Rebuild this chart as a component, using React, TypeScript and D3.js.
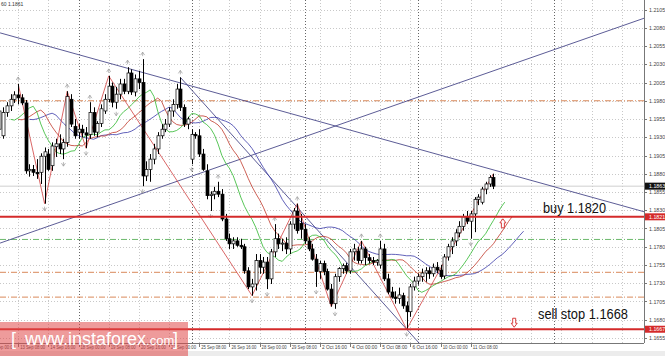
import React from 'react';
import * as d3 from 'd3';

const W = 665, H = 356;
const PLOT_RIGHT = 644, PLOT_BOTTOM = 343;

// bar index of first candle (index 0 = 12 Sep 00:00, H4 bars)
const FIRST_BAR = 3;
const opens = [1.1941,1.1932,1.1964,1.1973,1.1982,1.1988,1.1984,1.1977,1.1884,1.1886,1.1882,1.1882,1.1904,1.1907,1.1891,1.1917,1.1921,1.1914,1.1923,1.1982,1.1945,1.1937,1.1941,1.1936,1.1934,1.1964,1.1937,1.1949,1.1966,1.1982,1.2000,1.1978,1.1989,1.2003,1.1993,1.2018,1.1992,1.2010,1.2005,1.1877,1.1886,1.1900,1.1914,1.1932,1.1941,1.1948,1.1966,1.1975,1.1996,1.1971,1.1948,1.1900,1.1934,1.1932,1.1907,1.1884,1.1850,1.1852,1.1856,1.1852,1.1818,1.1791,1.1784,1.1788,1.1782,1.1780,1.1747,1.1725,1.1729,1.1761,1.1752,1.1759,1.1736,1.1773,1.1791,1.1784,1.1785,1.1777,1.1811,1.1829,1.1812,1.1804,1.1788,1.1777,1.1763,1.1746,1.1757,1.1746,1.1722,1.1702,1.1739,1.1750,1.1754,1.1747,1.1773,1.1774,1.1761,1.1777,1.1765,1.1761,1.1759,1.1755,1.1777,1.1736,1.1718,1.1711,1.1709,1.1713,1.1699,1.1691,1.1725,1.1733,1.1739,1.1744,1.1747,1.1743,1.1752,1.1748,1.1740,1.1766,1.1780,1.1788,1.1799,1.1808,1.1821,1.1815,1.1825,1.1845,1.1841,1.1859,1.1866,1.1875];
const highs = [1.1975,1.1971,1.1978,1.1989,1.1993,1.2003,1.1989,1.1981,1.1893,1.1892,1.1900,1.1908,1.1916,1.1914,1.1923,1.1928,1.1934,1.1928,1.1993,1.1989,1.1955,1.1948,1.1947,1.1944,1.1978,1.1971,1.1952,1.1975,1.1989,1.2014,1.2005,1.1999,1.2010,1.2010,1.2026,1.2023,1.2016,1.2021,1.2037,1.1897,1.1907,1.1921,1.1937,1.1948,1.1955,1.1971,1.1982,1.2003,1.2012,1.1975,1.1958,1.1941,1.1937,1.1941,1.1914,1.1893,1.1856,1.1862,1.1869,1.1859,1.1825,1.1798,1.1793,1.1793,1.1791,1.1784,1.1752,1.1736,1.1770,1.1770,1.1766,1.1766,1.1777,1.1811,1.1798,1.1791,1.1793,1.1815,1.1833,1.1839,1.1825,1.1811,1.1793,1.1784,1.1770,1.1761,1.1761,1.1750,1.1729,1.1743,1.1752,1.1757,1.1758,1.1777,1.1784,1.1780,1.1788,1.1780,1.1770,1.1766,1.1763,1.1788,1.1784,1.1743,1.1725,1.1719,1.1724,1.1717,1.1705,1.1729,1.1739,1.1743,1.1750,1.1752,1.1752,1.1757,1.1759,1.1755,1.1770,1.1784,1.1793,1.1804,1.1815,1.1825,1.1829,1.1829,1.1848,1.1852,1.1862,1.1869,1.1878,1.1880];
const lows = [1.1934,1.1928,1.1958,1.1966,1.1977,1.1975,1.1974,1.1880,1.1876,1.1877,1.1873,1.1866,1.1839,1.1884,1.1884,1.1903,1.1907,1.1900,1.1917,1.1944,1.1928,1.1928,1.1930,1.1915,1.1928,1.1932,1.1930,1.1944,1.1962,1.1978,1.1971,1.1969,1.1982,1.1989,1.1989,1.1988,1.1986,1.1996,1.1863,1.1870,1.1869,1.1893,1.1907,1.1928,1.1937,1.1944,1.1958,1.1969,1.1966,1.1944,1.1941,1.1893,1.1928,1.1903,1.1884,1.1845,1.1829,1.1845,1.1848,1.1815,1.1788,1.1777,1.1777,1.1780,1.1777,1.1743,1.1722,1.1713,1.1720,1.1743,1.1743,1.1722,1.1729,1.1766,1.1777,1.1774,1.1770,1.1770,1.1804,1.1798,1.1791,1.1784,1.1774,1.1761,1.1725,1.1736,1.1741,1.1720,1.1698,1.1695,1.1732,1.1743,1.1743,1.1743,1.1761,1.1757,1.1757,1.1755,1.1757,1.1755,1.1754,1.1750,1.1733,1.1715,1.1709,1.1702,1.1702,1.1695,1.1667,1.1684,1.1720,1.1728,1.1732,1.1732,1.1736,1.1739,1.1744,1.1736,1.1736,1.1761,1.1770,1.1781,1.1793,1.1802,1.1811,1.1791,1.1800,1.1837,1.1838,1.1852,1.1862,1.1859];
const closes = [1.1966,1.1964,1.1973,1.1982,1.1988,1.1984,1.1977,1.1884,1.1886,1.1882,1.1880,1.1904,1.1910,1.1886,1.1918,1.1921,1.1914,1.1923,1.1986,1.1948,1.1932,1.1941,1.1936,1.1933,1.1964,1.1937,1.1949,1.1969,1.1982,1.2000,1.1978,1.1989,1.2003,1.1993,1.2018,1.1992,1.2010,1.2005,1.1877,1.1886,1.1900,1.1914,1.1932,1.1941,1.1948,1.1966,1.1975,1.1996,1.1971,1.1948,1.1955,1.1934,1.1932,1.1907,1.1886,1.1850,1.1852,1.1856,1.1852,1.1818,1.1791,1.1784,1.1788,1.1782,1.1780,1.1747,1.1725,1.1729,1.1761,1.1752,1.1759,1.1736,1.1773,1.1791,1.1784,1.1785,1.1777,1.1811,1.1829,1.1802,1.1804,1.1788,1.1777,1.1763,1.1746,1.1757,1.1746,1.1722,1.1702,1.1739,1.1750,1.1754,1.1747,1.1773,1.1777,1.1761,1.1777,1.1765,1.1761,1.1759,1.1761,1.1777,1.1736,1.1718,1.1711,1.1709,1.1714,1.1699,1.1691,1.1725,1.1733,1.1739,1.1744,1.1747,1.1743,1.1752,1.1748,1.1739,1.1766,1.1780,1.1788,1.1799,1.1808,1.1821,1.1815,1.1825,1.1845,1.1848,1.1859,1.1866,1.1875,1.1863];

const priceTicks = [1.2105,1.2080,1.2055,1.2030,1.2005,1.1980,1.1955,1.1930,1.1905,1.1880,1.1855,1.1830,1.1805,1.1780,1.1755,1.1730,1.1705,1.1680,1.1655];
const timeLabels = ['12 Sep 00:00','13 Sep 08:00','14 Sep 16:00','18 Sep 00:00','19 Sep 08:00','20 Sep 16:00','22 Sep 00:00','25 Sep 08:00','26 Sep 16:00','28 Sep 00:00','29 Sep 08:00','2 Oct 16:00','4 Oct 00:00','5 Oct 08:00','6 Oct 16:00','10 Oct 00:00','11 Oct 08:00'];
const LABEL_STEP = 8; // bars between time labels
const weekStarts = [24, 54, 84, 114];
const userVertical = [150];

// zigzag vertices [bar, price]
const zigzag: [number, number][] = [[8,1.2003],[15,1.1839],[21,1.1993],[26,1.1915],[32,1.2014],[70,1.1713],[82,1.1839],[91,1.1698],[99,1.1788],[111,1.1667],[134,1.1880]];
// trend lines [bar1, price1, bar2, price2]
const trendLines: [number, number, number, number][] = [[3.2,1.2073,173.9,1.1828],[3.2,1.1785,173.9,1.2093],[51,1.2012,111,1.1667]];

const buyLevel = 1.1821, sellLevel = 1.1667, bidLevel = 1.1863;
const dashLevels: [number, string][] = [[1.1980,'#d9895a'],[1.1790,'#6cb96c'],[1.1745,'#d9895a'],[1.1711,'#d9895a']];

function smma(src: number[], n: number): number[] {
  const out: number[] = [];
  let prev = src[0];
  src.forEach((v, i) => { prev = i === 0 ? v : (prev * (n - 1) + v) / n; out.push(prev); });
  return out;
}

export default function App() {
  const x = d3.scaleLinear().domain([0, 176]).range([-12, -12 + 176 * 3.772]);
  const y = d3.scaleLinear().domain([1.1655, 1.2105]).range([338, 9.5]);
  const bars = opens.map((o, k) => ({ i: FIRST_BAR + k, o, h: highs[k], l: lows[k], c: closes[k] }));
  const med = bars.map(b => (b.h + b.l) / 2);
  const gator = [
    { n: 13, shift: 8, color: '#3a3aa8' },
    { n: 8, shift: 5, color: '#c0392b' },
    { n: 5, shift: 3, color: '#2eb82e' },
  ];
  const line = d3.line<[number, number]>().x(d => x(d[0])).y(d => y(d[1]));
  const upFr: number[] = [], dnFr: number[] = [];
  for (let k = 2; k < bars.length - 2; k++) {
    const h = bars[k].h, l = bars[k].l;
    if (h > bars[k-1].h && h > bars[k-2].h && h > bars[k+1].h && h > bars[k+2].h) upFr.push(k);
    if (l < bars[k-1].l && l < bars[k-2].l && l < bars[k+1].l && l < bars[k+2].l) dnFr.push(k);
  }
  const extend = (t: [number, number, number, number]) => {
    const [b1, p1, b2, p2] = t;
    const slope = (p2 - p1) / (b2 - b1);
    const bEnd = b2 + 20;
    return [[b1, p1], [bEnd, p1 + slope * (bEnd - b1)]] as [number, number][];
  };
  const gridX = d3.range(1, 23).map(k => -12 + k * LABEL_STEP * 3.772);
  const font = 'Liberation Sans, Arial, sans-serif';
  return (
    <svg width={W} height={H} style={{ position: 'absolute', left: 0, top: 0, background: '#fff' }} fontFamily={font}>
      <defs>
        <clipPath id="plot"><rect x={0} y={0} width={PLOT_RIGHT} height={PLOT_BOTTOM} /></clipPath>
        <clipPath id="bottom"><rect x={0} y={PLOT_BOTTOM} width={PLOT_RIGHT} height={H - PLOT_BOTTOM} /></clipPath>
      </defs>
      <rect x={0} y={0} width={W} height={H} fill="#fff" />
      <rect x={0} y={351} width={W} height={5} fill="#ececec" />
      <g clipPath="url(#plot)">
        {priceTicks.map(p => <line key={'gy'+p} x1={0} x2={PLOT_RIGHT} y1={Math.round(y(p))+0.5} y2={Math.round(y(p))+0.5} stroke="#c8c8c8" strokeDasharray="1,2" />)}
        {gridX.map(gx => <line key={'gx'+gx} x1={Math.round(gx)+0.5} x2={Math.round(gx)+0.5} y1={0} y2={PLOT_BOTTOM} stroke="#c8c8c8" strokeDasharray="1,2" />)}
        {weekStarts.concat(userVertical).map(b => <line key={'ws'+b} x1={Math.round(x(b))+0.5} x2={Math.round(x(b))+0.5} y1={0} y2={PLOT_BOTTOM} stroke="#666" strokeDasharray="1,2" />)}
        {dashLevels.map(([p, c]) => <line key={'dl'+p} x1={0} x2={PLOT_RIGHT} y1={y(p)} y2={y(p)} stroke={c} strokeDasharray="6,2,1,2" />)}
        <line x1={0} x2={PLOT_RIGHT} y1={y(bidLevel)} y2={y(bidLevel)} stroke="#cfcfcf" />
        {trendLines.map((t, k) => <path key={'tl'+k} d={line(extend(t)) || ''} stroke="#4a4a8a" strokeWidth={0.9} fill="none" />)}
        {gator.map(g => {
          const vals = smma(med, g.n);
          const pts: [number, number][] = vals.map((v, k) => [bars[k].i + g.shift, v]);
          return <path key={g.color} d={line(pts) || ''} stroke={g.color} strokeWidth={0.8} fill="none" />;
        })}
        <path d={line(zigzag) || ''} stroke="#d04040" strokeWidth={0.8} fill="none" />
        {bars.map(b => {
          const cx = Math.round(x(b.i)) + 0.5;
          const top = y(Math.max(b.o, b.c)), bot = y(Math.min(b.o, b.c));
          const up = b.c >= b.o;
          return (
            <g key={'c'+b.i}>
              <line x1={cx} x2={cx} y1={y(b.h)} y2={y(b.l)} stroke="#000" strokeWidth={1} />
              <rect x={cx - 1.5} y={top} width={3} height={Math.max(1, bot - top)} fill={up ? '#fff' : '#000'} stroke="#000" strokeWidth={0.7} />
            </g>
          );
        })}
        {upFr.map(k => { const fx = x(bars[k].i), fy = y(bars[k].h) - 5; return <path key={'uf'+k} d={`M${fx-2},${fy+1}L${fx},${fy-2}L${fx+2},${fy+1}M${fx},${fy-2}V${fy+2}`} stroke="#999" strokeWidth={0.7} fill="none" />; })}
        {dnFr.map(k => { const fx = x(bars[k].i), fy = y(bars[k].l) + 5; return <path key={'df'+k} d={`M${fx-2},${fy-1}L${fx},${fy+2}L${fx+2},${fy-1}M${fx},${fy+2}V${fy-2}`} stroke="#999" strokeWidth={0.7} fill="none" />; })}
        <line x1={0} x2={PLOT_RIGHT} y1={y(buyLevel)} y2={y(buyLevel)} stroke="#d42a2a" strokeWidth={2} />
        <line x1={0} x2={PLOT_RIGHT} y1={y(sellLevel)} y2={y(sellLevel)} stroke="#d42a2a" strokeWidth={2} />
        <path d={`M${x(136.5)},${y(buyLevel)+2}l3,4h-1.5v5h-3v-5h-1.5z`} fill="#fff" stroke="#d42a2a" strokeWidth={0.9} />
        <path d={`M${x(139.5)},${y(sellLevel)-2}l3,-4h-1.5v-5h-3v5h-1.5z`} fill="#fff" stroke="#d42a2a" strokeWidth={0.9} />
        <text x={543} y={213} fontSize={14} fill="#111" textLength={63} lengthAdjust="spacingAndGlyphs">buy 1.1820</text>
        <text x={538} y={319} fontSize={14} fill="#111" textLength={90} lengthAdjust="spacingAndGlyphs">sell stop 1.1668</text>
        <text x={1} y={5.5} fontSize={5} fill="#333">60 1.1861</text>
      </g>
      <line x1={PLOT_RIGHT + 0.5} x2={PLOT_RIGHT + 0.5} y1={0} y2={PLOT_BOTTOM} stroke="#777" />
      <line x1={0} x2={PLOT_RIGHT} y1={PLOT_BOTTOM + 0.5} y2={PLOT_BOTTOM + 0.5} stroke="#777" />
      {priceTicks.map(p => (
        <g key={'pt'+p}>
          <line x1={PLOT_RIGHT} x2={PLOT_RIGHT + 3} y1={Math.round(y(p))+0.5} y2={Math.round(y(p))+0.5} stroke="#777" />
          <text x={649} y={y(p) + 2} fontSize={5.3} fill="#444">{p.toFixed(4)}</text>
        </g>
      ))}
      {[[bidLevel, '#111'], [buyLevel, '#d42a2a'], [sellLevel, '#d42a2a']].map(([p, c]) => (
        <g key={'hl'+p}>
          <rect x={645} y={y(p as number) - 3.5} width={20} height={7} fill={c as string} />
          <text x={649} y={y(p as number) + 2} fontSize={5.3} fill="#fff">{(p as number).toFixed(4)}</text>
        </g>
      ))}
      <g clipPath="url(#bottom)">
        {timeLabels.map((t, k) => {
          const tx = x(k * LABEL_STEP);
          return (
            <g key={'tl'+t}>
              <line x1={Math.round(tx)+0.5} x2={Math.round(tx)+0.5} y1={PLOT_BOTTOM} y2={PLOT_BOTTOM + 4} stroke="#777" />
              <text x={tx + 2} y={PLOT_BOTTOM + 5.5} fontSize={4.6} fill="#444" textLength={25} lengthAdjust="spacingAndGlyphs">{t}</text>
            </g>
          );
        })}
      </g>
      <rect x={0} y={322} width={188} height={34} fill="#e04848" opacity={0.55} />
      <text x={11} y={345} fill="#fff" fontSize={18} fontFamily={font}>[</text>
      <text x={25} y={345} fill="#fff" fontSize={18} fontFamily={font}>www.instaforex<tspan fontSize={13}>.com</tspan></text>
      <text x={173} y={345} fill="#fff" fontSize={18} fontFamily={font}>]</text>
    </svg>
  );
}
